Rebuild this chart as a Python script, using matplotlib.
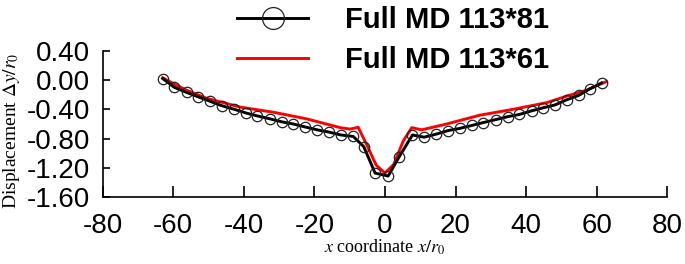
"""Displacement profile along x for two full MD grids."""
import matplotlib

matplotlib.use("Agg")
import matplotlib.pyplot as plt  # noqa: E402

plt.rcParams["font.family"] = ["Liberation Sans", "DejaVu Sans"]
plt.rcParams["mathtext.fontset"] = "stix"
plt.rcParams["axes.unicode_minus"] = False

# Full MD 113*81 (black, circles)
x_81 = [-63.0, -59.7, -56.2, -52.9, -49.6, -46.3, -42.7, -39.4, -36.2, -32.6,
        -29.3, -26.0, -22.7, -19.2, -15.9, -12.5, -9.0, -6.0, -2.8, 0.9,
        4.0, 7.8, 11.1, 14.4, 17.9, 21.2, 24.6, 27.9, 31.4, 34.8,
        38.1, 41.6, 44.8, 48.2, 51.5, 54.9, 58.1, 61.4]
y_81 = [0.02, -0.10, -0.17, -0.23, -0.29, -0.35, -0.40, -0.45, -0.49, -0.53,
        -0.57, -0.60, -0.64, -0.68, -0.71, -0.75, -0.77, -0.91, -1.27, -1.31,
        -1.05, -0.75, -0.78, -0.74, -0.69, -0.66, -0.62, -0.58, -0.54, -0.50,
        -0.47, -0.42, -0.38, -0.34, -0.27, -0.21, -0.12, -0.04]

# Full MD 113*61 (red line)
x_61 = [-63.0, -59.5, -56.2, -50.5, -41.0, -31.6, -22.2, -12.7, -9.9, -7.6,
        -5.2, -2.5, 0.0, 2.5, 5.2, 7.6, 10.4, 17.5, 26.9, 36.3,
        45.8, 51.5, 57.1, 62.8]
y_61 = [0.03, -0.06, -0.14, -0.25, -0.37, -0.44, -0.53, -0.65, -0.67, -0.645,
        -0.88, -1.16, -1.27, -1.15, -0.83, -0.65, -0.68, -0.60, -0.48, -0.40,
        -0.31, -0.22, -0.14, -0.02]

x_ticks = [-80, -60, -40, -20, 0, 20, 40, 60, 80]
y_ticks = [0.40, 0.00, -0.40, -0.80, -1.20, -1.60]

fig = plt.figure(figsize=(6.85, 2.64), dpi=100)
ax = fig.add_axes([0.15, 0.2527, 0.824, 0.5553])

ax.plot(x_81, y_81, color="black", linewidth=2.1, marker="o", markersize=7.5,
        markerfacecolor="none", markeredgewidth=0.9, markeredgecolor="#222222",
        label="Full MD 113*81", zorder=3)
ax.plot(x_61, y_61, color="red", linewidth=2.1, label="Full MD 113*61", zorder=2)

ax.set_xlim(-80, 80)
ax.set_ylim(-1.6, 0.4)
ax.set_xticks(x_ticks)
ax.set_xticklabels([str(t) for t in x_ticks])
ax.set_yticks(y_ticks)
ax.set_yticklabels([f"{t:.2f}" for t in y_ticks])
ax.tick_params(axis="both", direction="in", labelsize=20, width=1.2)
ax.tick_params(axis="x", length=8, pad=11)
ax.tick_params(axis="y", length=5, pad=9)
for side in ("top", "right"):
    ax.spines[side].set_visible(False)
for side in ("left", "bottom"):
    ax.spines[side].set_linewidth(1.2)

ax.set_xlabel(r"$x$ coordinate $x/r_0$", family="Liberation Serif", fontsize=13)
ax.set_ylabel(r"Displacement $\Delta y/r_0$", family="Liberation Serif",
              fontsize=14)
ax.xaxis.set_label_coords(0.5, -0.278)
ax.yaxis.set_label_coords(-0.143, 0.455)

ax.legend(loc="upper left", bbox_to_anchor=(237 / 685, 0.978),
          bbox_transform=fig.transFigure, frameon=False, borderpad=0.0,
          borderaxespad=0.0, handlelength=2.45, handletextpad=1.24,
          labelspacing=0.43, markerscale=2.1,
          prop={"family": "Liberation Sans", "weight": "bold", "size": 21})

fig.savefig("out.png", dpi=100)
